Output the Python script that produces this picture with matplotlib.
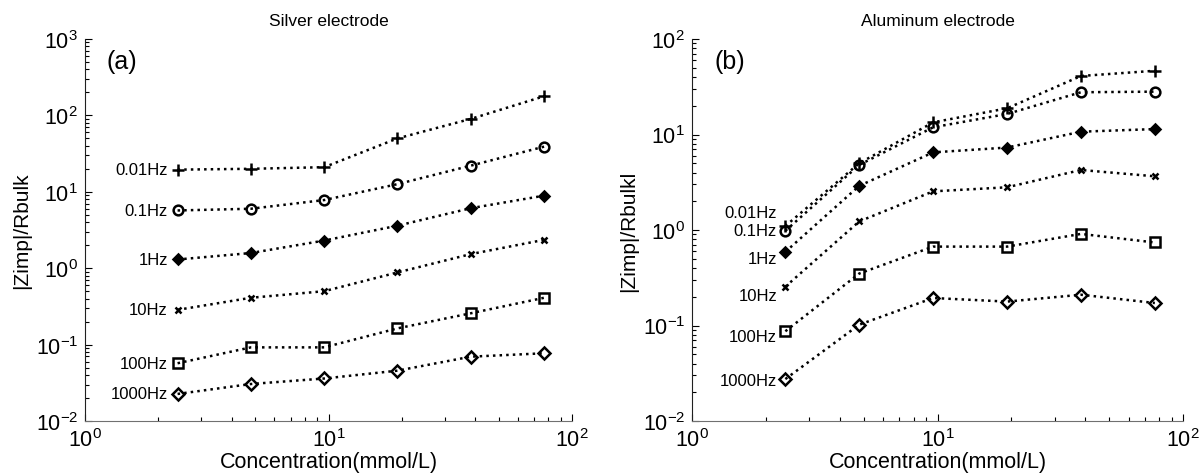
import matplotlib
matplotlib.use("Agg")
import matplotlib.pyplot as plt
from matplotlib.ticker import LogLocator, NullFormatter

plt.rcParams['font.family'] = ['Liberation Sans', 'DejaVu Sans']

conc = [2.4, 4.8, 9.6, 19.2, 38.4, 76.8]
freq_labels = ['0.01Hz', '0.1Hz', '1Hz', '10Hz', '100Hz', '1000Hz']

silver_001 = [19.5, 20.0, 21.0, 50.0, 90.0, 178.0]
silver_01 = [5.7, 6.0, 7.8, 12.6, 22.0, 39.0]
silver_1 = [1.3, 1.58, 2.3, 3.6, 6.1, 8.9]
silver_10 = [0.285, 0.41, 0.50, 0.88, 1.53, 2.35]
silver_100 = [0.057, 0.092, 0.092, 0.163, 0.257, 0.41]
silver_1000 = [0.0226, 0.0305, 0.036, 0.0456, 0.0695, 0.077]

alu_001 = [1.1, 5.0, 13.4, 18.8, 41.0, 46.5]
alu_01 = [0.98, 4.8, 11.9, 16.4, 27.7, 28.1]
alu_1 = [0.59, 2.9, 6.5, 7.3, 10.7, 11.4]
alu_10 = [0.255, 1.23, 2.54, 2.8, 4.25, 3.65]
alu_100 = [0.087, 0.35, 0.67, 0.67, 0.91, 0.74]
alu_1000 = [0.0275, 0.102, 0.194, 0.178, 0.21, 0.172]

markers = [('+', 9, 'k'), ('o', 7, 'none'), ('D', 5, 'k'), ('x', 4, 'k'), ('s', 7, 'none'), ('D', 6.5, 'none')]

fig = plt.figure(figsize=(12.04, 4.77), dpi=100)
axL = fig.add_axes([85/1204, 1-422/477, 487/1204, 382/477])
axR = fig.add_axes([692/1204, 1-422/477, 491/1204, 382/477])

def style(ax, ylim, title, tag, ylabel):
    ax.set_xscale('log'); ax.set_yscale('log')
    ax.set_xlim(1, 100); ax.set_ylim(*ylim)
    for s in ['top', 'right']:
        ax.spines[s].set_visible(False)
    ax.spines['left'].set_color('#202020')
    ax.spines['bottom'].set_color('#707070')
    ax.xaxis.set_major_locator(LogLocator(base=10, numticks=10))
    ax.yaxis.set_major_locator(LogLocator(base=10, numticks=10))
    ax.xaxis.set_minor_locator(LogLocator(base=10, subs=range(2, 10), numticks=10))
    ax.yaxis.set_minor_locator(LogLocator(base=10, subs=range(2, 10), numticks=10))
    ax.xaxis.set_minor_formatter(NullFormatter())
    ax.yaxis.set_minor_formatter(NullFormatter())
    ax.tick_params(which='major', direction='in', length=5, width=0.8, labelsize=15.5, pad=5)
    ax.tick_params(which='minor', direction='in', length=3, width=0.8)
    ax.set_title(title, fontsize=12.5, pad=10)
    ax.text(0.045, 0.975, tag, transform=ax.transAxes, fontsize=18, va='top', ha='left')
    ax.set_xlabel('Concentration(mmol/L)', fontsize=15.5, labelpad=0)
    ax.set_ylabel(ylabel, fontsize=15, labelpad=3)

def plot_series(ax, series):
    for ys, (m, ms, fc) in zip(series, markers):
        ax.plot(conc, ys, linestyle=':', color='k', lw=1.8, marker=m, ms=ms,
                mfc=fc, mec='k', mew=1.8)

silver = [silver_001, silver_01, silver_1, silver_10, silver_100, silver_1000]
alu = [alu_001, alu_01, alu_1, alu_10, alu_100, alu_1000]

plot_series(axL, silver)
plot_series(axR, alu)
style(axL, (1e-2, 1e3), 'Silver electrode', '(a)', '|Zimp|/Rbulk')
style(axR, (1e-2, 1e2), 'Aluminum electrode', '(b)', '|Zimp|/Rbulkl')

# labels for left panel: to the left of the first point
for ys, lab in zip(silver, freq_labels):
    axL.annotate(lab, (conc[0], ys[0]), xytext=(-7, 0), textcoords='offset points',
                 ha='right', va='center', fontsize=12)

# labels for right panel (offsets in points)
r_offsets = [(-6, 10), (-6, 0), (-6, -5), (-6, -6), (-6, -4), (-6, -1)]
for ys, lab, off in zip(alu, freq_labels, r_offsets):
    axR.annotate(lab, (conc[0], ys[0]), xytext=off, textcoords='offset points',
                 ha='right', va='center', fontsize=12)

fig.savefig('out.png', dpi=100)
